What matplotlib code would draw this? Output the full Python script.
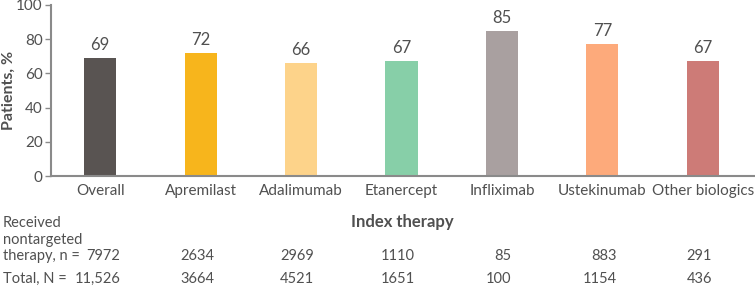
import matplotlib
matplotlib.use("Agg")
from matplotlib import pyplot as plt
from matplotlib import transforms

categories = ["Overall", "Apremilast", "Adalimumab", "Etanercept",
              "Infliximab", "Ustekinumab", "Other biologics"]
pct = [69, 72, 66, 67, 85, 77, 67]
n_nontargeted = ["7972", "2634", "2969", "1110", "85", "883", "291"]
n_total = ["11,526", "3664", "4521", "1651", "100", "1154", "436"]
colors = ["#595452", "#F7B51C", "#FDD38A", "#87CFA8",
          "#A9A0A0", "#FDAA7B", "#CD7B77"]

plt.rcParams['font.family'] = ['Lato', 'DejaVu Sans']
txt = '#505050'
axc = '#8a8a8a'

fig = plt.figure(figsize=(7.55, 2.88), dpi=100)
ax = fig.add_axes([51/755, 112/288, 704/755, 171/288])

x = list(range(len(categories)))
ax.bar(x, pct, width=0.32, color=colors)
for xi, v in zip(x, pct):
  ax.text(xi, v + 3, str(v), ha='center', va='bottom', fontsize=12, color=txt)

ax.set_xlim(-0.49, 6.52)
ax.set_ylim(0, 100)
ax.set_yticks(range(0, 101, 20))
ax.set_xticks(x)
ax.set_xticklabels(categories)
ax.tick_params(axis='x', length=0, pad=6, labelsize=11, labelcolor=txt)
ax.tick_params(axis='y', length=4, width=1, color=axc, labelsize=11, labelcolor=txt, pad=2)
for s in ['top', 'right']:
  ax.spines[s].set_visible(False)
for s in ['left', 'bottom']:
  ax.spines[s].set_color(axc)
  ax.spines[s].set_linewidth(1.5)

# y label placed by hand so it does not run off the left edge
fig.text(9/755, 1 - 90/288, 'Patients, %', rotation=90, ha='center', va='center',
         fontsize=11.5, fontweight='bold', color=txt)

fig.text(402/755, 1 - 222/288, 'Index therapy', ha='center', va='center',
         fontsize=12, fontweight='bold', color=txt)

# table rows under the chart
fig.text(3/755, 1 - 223/288, 'Received', ha='left', va='center', fontsize=10.5, color=txt)
fig.text(3/755, 1 - 240/288, 'nontargeted', ha='left', va='center', fontsize=10.5, color=txt)
fig.text(3/755, 1 - 256/288, 'therapy, n =', ha='left', va='center', fontsize=10.5, color=txt)
fig.text(3/755, 1 - 279/288, 'Total, N =', ha='left', va='center', fontsize=10.5, color=txt)

trans = transforms.blended_transform_factory(ax.transData, fig.transFigure)
offsets = [0.2, 0.14, 0.13, 0.13, 0.09, 0.14, 0.09]
for xi, a, b, off in zip(x, n_nontargeted, n_total, offsets):
  ax.text(xi + off, 1 - 256/288, a, ha='right', va='center', fontsize=10.5,
          color=txt, transform=trans, clip_on=False)
  ax.text(xi + off, 1 - 279/288, b, ha='right', va='center', fontsize=10.5,
          color=txt, transform=trans, clip_on=False)

plt.savefig('out.png', dpi=100)
plt.close()
